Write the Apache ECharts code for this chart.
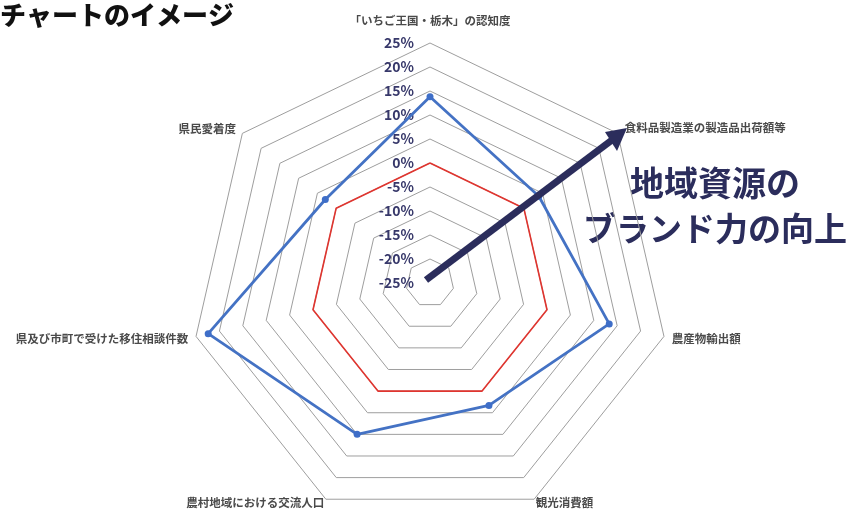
<!DOCTYPE html>
<html>
<head>
<meta charset="utf-8">
<script src="https://cdn.jsdelivr.net/npm/echarts@6/dist/echarts.min.js"></script>
<style>
html,body{margin:0;padding:0;background:#fff;}
#main{width:850px;height:509px;}
</style>
</head>
<body>
<div id="main"></div>
<script>
// Indicators listed clockwise from the top, as in the reference.
const indicatorNames = [
  '「いちご王国・栃木」の認知度',
  '食料品製造業の製造品出荷額等',
  '農産物輸出額',
  '観光消費額',
  '農村地域における交流人口',
  '県及び市町で受けた移住相談件数',
  '県民愛着度'
];
const blueValues = [13.8, 4, 13.3, 3.3, 10, 22.4, 2.9];
const redValues = [0, 0, 0, 0, 0, 0, 0];
const axisMin = -25;
const axisMax = 25;
const axisStep = 5;
const titleText = 'チャートのイメージ';
const calloutLines = ['地域資源の', 'ブランド力の向上'];

// Layout (name gap per indicator, clockwise order)
const nameGaps = [17, 9, 8, 4, 4, 8, 8];

const FONT = '"Noto Sans CJK JP", "Noto Sans", sans-serif';
const navy = '#2b2d5c';

// ECharts radar runs counter-clockwise; reorder so the drawing is clockwise.
const order = [0].concat(indicatorNames.map((_, i) => i).slice(1).reverse());
const reorder = arr => order.map(i => arr[i]);

const chart = echarts.init(document.getElementById('main'));

const indicators = order.map((i, k) => {
  const o = { name: indicatorNames[i], min: axisMin, max: axisMax, nameGap: nameGaps[i] };
  if (k === 0) o.axisLabel = { show: true };
  return o;
});

chart.setOption({
  animation: false,
  backgroundColor: '#fff',
  radar: {
    center: [430, 283],
    radius: 240,
    startAngle: 90,
    shape: 'polygon',
    splitNumber: (axisMax - axisMin) / axisStep,
    indicator: indicators,
    nameGap: 8,
    axisName: {
      color: '#4a4a4a',
      fontSize: 11.5,
      fontWeight: 'bold',
      fontFamily: FONT
    },
    axisLine: { show: false },
    axisTick: { show: false },
    splitArea: { show: false },
    splitLine: { lineStyle: { color: '#9e9e9e', width: 1 } },
    axisLabel: {
      show: false,
      formatter: v => v + '%',
      color: '#37386a',
      fontSize: 14,
      fontWeight: 'bold',
      fontFamily: FONT,
      margin: 16
    }
  },
  series: [
    {
      type: 'radar',
      silent: true,
      symbol: 'none',
      z: 2,
      lineStyle: { color: '#e0352f', width: 1.6 },
      data: [{ value: reorder(redValues) }]
    },
    {
      type: 'radar',
      silent: true,
      symbol: 'circle',
      symbolSize: 7,
      z: 3,
      itemStyle: { color: '#3e6ec8' },
      lineStyle: { color: '#4472c4', width: 2.8 },
      data: [{ value: reorder(blueValues) }]
    }
  ],
  graphic: [
    {
      type: 'text',
      left: 0,
      top: 2,
      style: {
        text: titleText,
        font: '900 26px ' + FONT,
        fill: '#111'
      }
    },
    {
      type: 'text',
      x: 715,
      y: 183,
      style: {
        text: calloutLines[0],
        font: 'bold 34px ' + FONT,
        fill: navy,
        align: 'center',
        verticalAlign: 'middle'
      }
    },
    {
      type: 'text',
      x: 715,
      y: 228,
      style: {
        text: calloutLines[1],
        font: 'bold 33px ' + FONT,
        fill: navy,
        align: 'center',
        verticalAlign: 'middle'
      }
    },
    {
      type: 'line',
      z: 10,
      shape: { x1: 426, y1: 280, x2: 612, y2: 140 },
      style: { stroke: navy, lineWidth: 7 }
    },
    {
      type: 'polygon',
      z: 10,
      shape: { points: [[627, 128], [605, 132], [617, 151]] },
      style: { fill: navy }
    }
  ]
});
</script>
</body>
</html>
